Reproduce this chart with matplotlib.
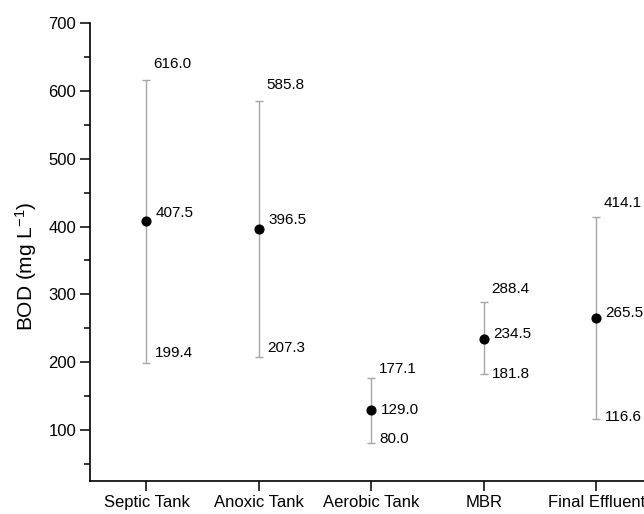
import matplotlib.pyplot as plt
from matplotlib.ticker import MultipleLocator

plt.rcParams['font.family'] = ['Liberation Sans', 'DejaVu Sans']
plt.rcParams['mathtext.fontset'] = 'custom'
plt.rcParams['mathtext.rm'] = 'Liberation Sans'
plt.rcParams['mathtext.it'] = 'Liberation Sans:italic'

stages = ['Septic Tank', 'Anoxic Tank', 'Aerobic Tank', 'MBR', 'Final Effluent']
bod_max = [616.0, 585.8, 177.1, 288.4, 414.1]
bod_mean = [407.5, 396.5, 129.0, 234.5, 265.5]
bod_min = [199.4, 207.3, 80.0, 181.8, 116.6]

# label offsets in points (hand placed, as in the original figure)
top_dy = [11.5, 11.5, 6.5, 9.5, 10]
mean_dy = [6, 6.5, 0, 3.5, 3.5]
low_dy = [6.5, 6.5, 3, 0, 1]

fig = plt.figure(figsize=(6.44, 5.14), dpi=100)
ax = fig.add_axes([0.1401, 0.0648, 0.8734, 0.8899])

x = list(range(1, len(stages) + 1))
lower = [m - lo for m, lo in zip(bod_mean, bod_min)]
upper = [hi - m for m, hi in zip(bod_mean, bod_max)]
ax.errorbar(x, bod_mean, yerr=[lower, upper], fmt='none', ecolor='#a6a6a6',
            elinewidth=1.0, capsize=3, capthick=1.0, zorder=1)
ax.plot(x, bod_mean, 'o', color='black', markersize=6.3, zorder=2)

for i, xi in enumerate(x):
    ax.annotate(f'{bod_max[i]:.1f}', (xi, bod_max[i]), xytext=(5, top_dy[i]),
                textcoords='offset points', fontsize=11, va='center', ha='left')
    ax.annotate(f'{bod_mean[i]:.1f}', (xi, bod_mean[i]), xytext=(6.5, mean_dy[i]),
                textcoords='offset points', fontsize=11, va='center', ha='left')
    ax.annotate(f'{bod_min[i]:.1f}', (xi, bod_min[i]), xytext=(6, low_dy[i]),
                textcoords='offset points', fontsize=11, va='center', ha='left')

ax.set_xlim(0.5, 5.5)
ax.set_ylim(25, 700)
ax.set_xticks(x)
ax.set_xticklabels(stages)
ax.set_yticks(range(100, 701, 100))
ax.yaxis.set_minor_locator(MultipleLocator(50))
ax.tick_params(axis='both', which='major', direction='out', length=7, width=1.1,
               labelsize=12, pad=3)
ax.tick_params(axis='y', which='minor', direction='out', length=4, width=1.1)
ax.tick_params(axis='x', which='minor', bottom=False)
ax.set_ylabel('BOD (mg L$^{-1}$)', fontsize=15)
ax.yaxis.set_label_coords(-0.091, 0.469)

ax.spines['top'].set_visible(False)
ax.spines['right'].set_visible(False)
ax.spines['left'].set_linewidth(1.2)
ax.spines['bottom'].set_linewidth(1.2)

fig.savefig('out.png', dpi=100)
